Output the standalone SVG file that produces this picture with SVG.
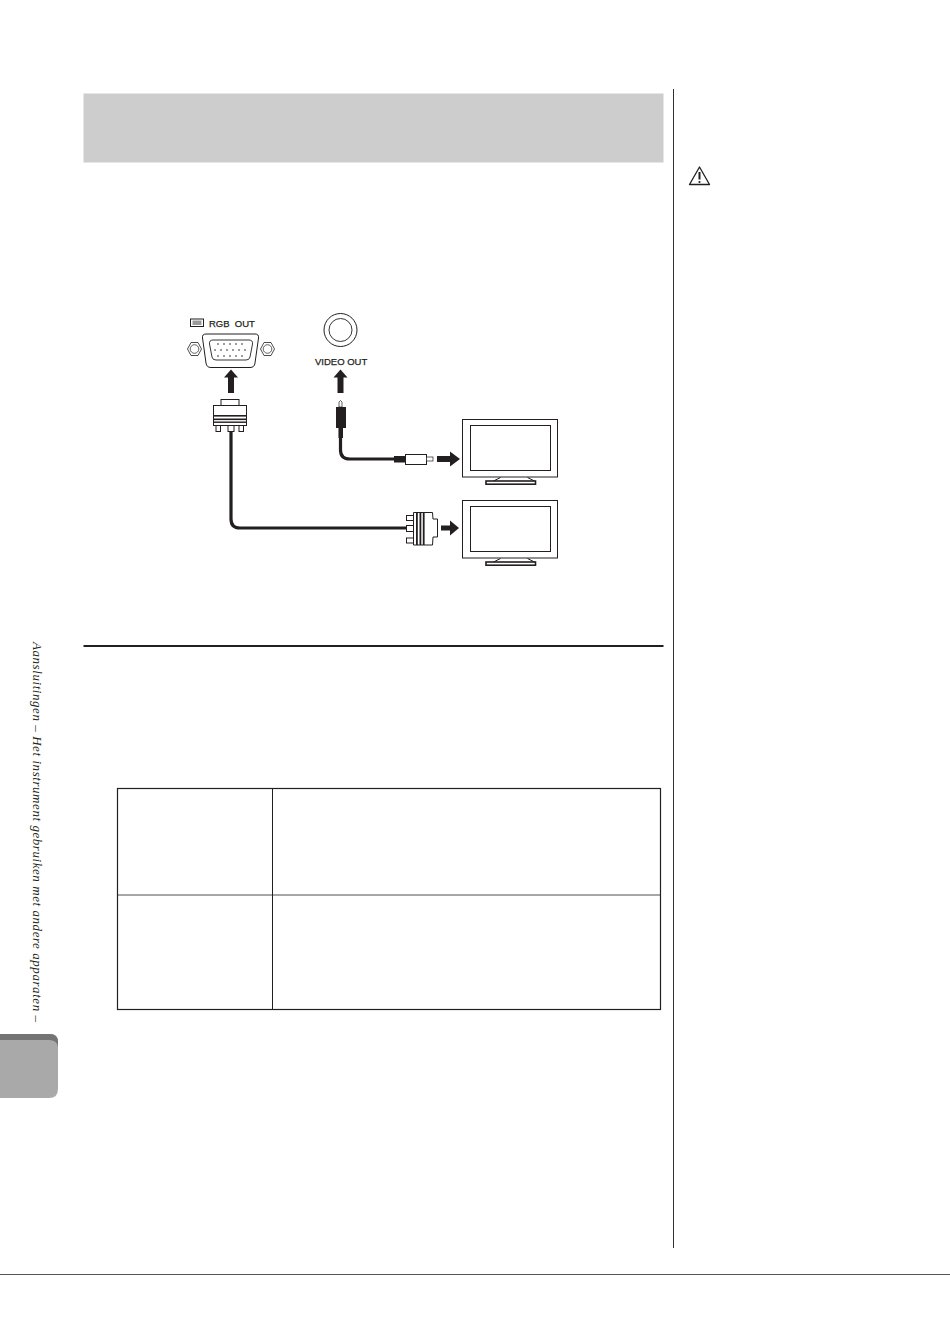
<svg xmlns="http://www.w3.org/2000/svg" width="950" height="1342" viewBox="0 0 950 1342">
<style>
.o{fill:#fff;stroke:#231f20;stroke-width:1}
.t{fill:none;stroke:#231f20;stroke-width:1}
.k{fill:#231f20;stroke:none}
.c{fill:none;stroke:#231f20;stroke-width:3.2}
.l{font-family:"Liberation Sans",Arial,sans-serif;font-size:9.5px;fill:#231f20;stroke:#231f20;stroke-width:.25;white-space:pre}
.tab{fill:none;stroke:#231f20}
</style>
<defs>
<g id="tv">
<rect class="o" x="0" y="0" width="95" height="57.5" stroke-width="1.2"/>
<rect class="t" x="8" y="6" width="80" height="45"/>
<path class="t" d="M31 61.5L38 58M72 61.5L65 58" stroke-width=".6"/>
<rect class="o" x="23.500" y="61.500" width="49.500" height="3.200" style="stroke-width:1.600"/>
</g>
</defs>
<rect width="950" height="1342" fill="#fff"/>
<g id="header"><rect x="83.500" y="93.500" width="580" height="69" fill="#cdcdcd"/></g>
<g id="margin">
<path d="M673.500 89V1248" stroke="#333" stroke-width="1" fill="none"/>
<path d="M0 1274.500H950" stroke="#555" stroke-width="1" fill="none"/>
<g id="warning">
<path d="M699.500 167L689.500 184.500H709.500Z" fill="#fff" stroke="#231f20" stroke-width="1.300" stroke-linejoin="round"/>
<path d="M699.500 172V179.500" stroke="#231f20" stroke-width="2" fill="none"/>
<circle cx="699.500" cy="182" r="1.100" fill="#231f20"/>
</g>
</g>
<g id="sidebar">
<text transform="translate(33 642) rotate(90)" font-family="Liberation Serif,Times New Roman,serif" font-style="italic" font-size="13" fill="#231f20" textLength="380" lengthAdjust="spacing">Aansluitingen – Het instrument gebruiken met andere apparaten –</text>
<path d="M0 1034H50Q58 1034 58 1042V1089Q58 1098 49 1098H0Z" fill="#a9a9a9"/>
<path d="M0 1034H50Q58 1034 58 1042V1047Q57 1040 49 1040H0Z" fill="#747474"/>
</g>
<g id="rgb-out">
<rect class="t" x="190.500" y="319" width="13" height="7.500"/>
<rect x="192.500" y="320.500" width="9" height="4.500" fill="#999"/>
<text class="l" x="209" y="326.500">RGB  OUT</text>
<path class="o" d="M187.500 349L191 342.500H198L201.500 349L198 355.500H191Z" style="stroke-width:.8"/>
<circle class="t" cx="194.500" cy="349" r="4.300" style="stroke-width:.7"/>
<path class="o" d="M260.500 349L264 342.500H271L274.500 349L271 355.500H264Z" style="stroke-width:.8"/>
<circle class="t" cx="267.500" cy="349" r="4.300" style="stroke-width:.7"/>
<path class="o" d="M206 334H255Q259 334 258.500 338L255 363Q254.500 367.500 250 367.500H211Q206.500 367.500 206 363L202.500 338Q202 334 206 334Z"/>
<path class="t" d="M213 340H249Q253 340 252.500 344L250 357Q249.500 360 246 360H216Q212.500 360 212 357L209.500 344Q209 340 213 340Z" style="stroke-width:.9"/>
<g fill="#231f20">
<circle cx="218" cy="344" r=".8"/><circle cx="224" cy="344" r=".8"/><circle cx="230" cy="344" r=".8"/><circle cx="236" cy="344" r=".8"/><circle cx="242" cy="344" r=".8"/>
<circle cx="215" cy="350" r=".8"/><circle cx="221" cy="350" r=".8"/><circle cx="227" cy="350" r=".8"/><circle cx="233" cy="350" r=".8"/><circle cx="239" cy="350" r=".8"/><circle cx="245" cy="350" r=".8"/>
<circle cx="218" cy="356" r=".8"/><circle cx="224" cy="356" r=".8"/><circle cx="230" cy="356" r=".8"/><circle cx="236" cy="356" r=".8"/><circle cx="242" cy="356" r=".8"/>
</g>
</g>
<g id="video-out">
<circle class="t" cx="340.500" cy="330" r="16.500"/>
<circle class="t" cx="340.500" cy="330" r="11.500" style="stroke-width:.9"/>
<text class="l" x="315" y="364.500">VIDEO OUT</text>
</g>
<g id="connectors">
<path class="c" d="M231 432V519Q231 528 240 528H406"/>
<path class="c" d="M340.500 428V450Q340.500 459 350 459H396"/>
</g>
<g id="vga-plug-top">
<rect class="o" x="221" y="399.500" width="18" height="6"/>
<rect class="o" x="213.500" y="405.500" width="33" height="20"/>
<rect class="k" x="213.500" y="415" width="33" height="1.600"/>
<rect class="k" x="213.500" y="418.500" width="33" height="1.600"/>
<rect class="k" x="213.500" y="421.500" width="33" height="1.400"/>
<rect class="o" x="216" y="425.500" width="4.500" height="6"/>
<rect class="o" x="239" y="425.500" width="4.500" height="6"/>
<rect class="o" x="228" y="425.500" width="6" height="6"/>
</g>
<g id="jack-top">
<path class="o" d="M339 407V402Q340.500 399 342 402V407Z" style="stroke-width:.7"/>
<rect class="k" x="336" y="407" width="10" height="21"/>
<rect class="k" x="338.500" y="428" width="4.500" height="10"/>
</g>
<g id="jack-side">
<rect class="k" x="394" y="456" width="12" height="6.500"/>
<rect class="o" x="405.500" y="454.500" width="21" height="10"/>
<rect class="o" x="426.500" y="457" width="6.500" height="4" style="stroke-width:.7"/>
</g>
<g id="vga-plug-side">
<rect class="o" x="406.500" y="515.500" width="7" height="5"/>
<rect class="o" x="406.500" y="525.500" width="7" height="6"/>
<rect class="o" x="406.500" y="538" width="7" height="5"/>
<path class="o" d="M413.500 512.500H432.500L433 519H437.500V537H433L432.500 545H413.500Z"/>
<rect class="k" x="416" y="512.500" width="1.800" height="32.500"/>
<rect class="k" x="419.500" y="512.500" width="1.800" height="32.500"/>
<rect class="k" x="422.800" y="512.500" width="1.800" height="32.500"/>
</g>
<g id="arrows" fill="#231f20">
<path d="M228 393V377.500H224L231 369.500L238 377.500H234V393Z"/>
<path d="M337.500 393V377.500H333.500L340.500 369.500L347.500 377.500H343.500V393Z"/>
<path d="M437 456H450V451.500L460 459L450 466.500V462H437Z"/>
<path d="M441 525.500H450V520.500L459 528L450 535.500V530.500H441Z"/>
</g>
<g id="tv-video"><use href="#tv" transform="translate(462.500 419.500)"/></g>
<g id="tv-rgb"><use href="#tv" transform="translate(462.500 500.500)"/></g>
<g id="rule"><rect x="83.500" y="645" width="580" height="2" fill="#231f20"/></g>
<g id="table">
<rect class="tab" x="117.500" y="788.500" width="543" height="221" stroke-width="1.200"/>
<path class="tab" d="M272.500 788.500V1009.500" stroke-width="1"/>
<path class="tab" d="M117.500 895H660.500" stroke-width=".8"/>
</g>
</svg>
